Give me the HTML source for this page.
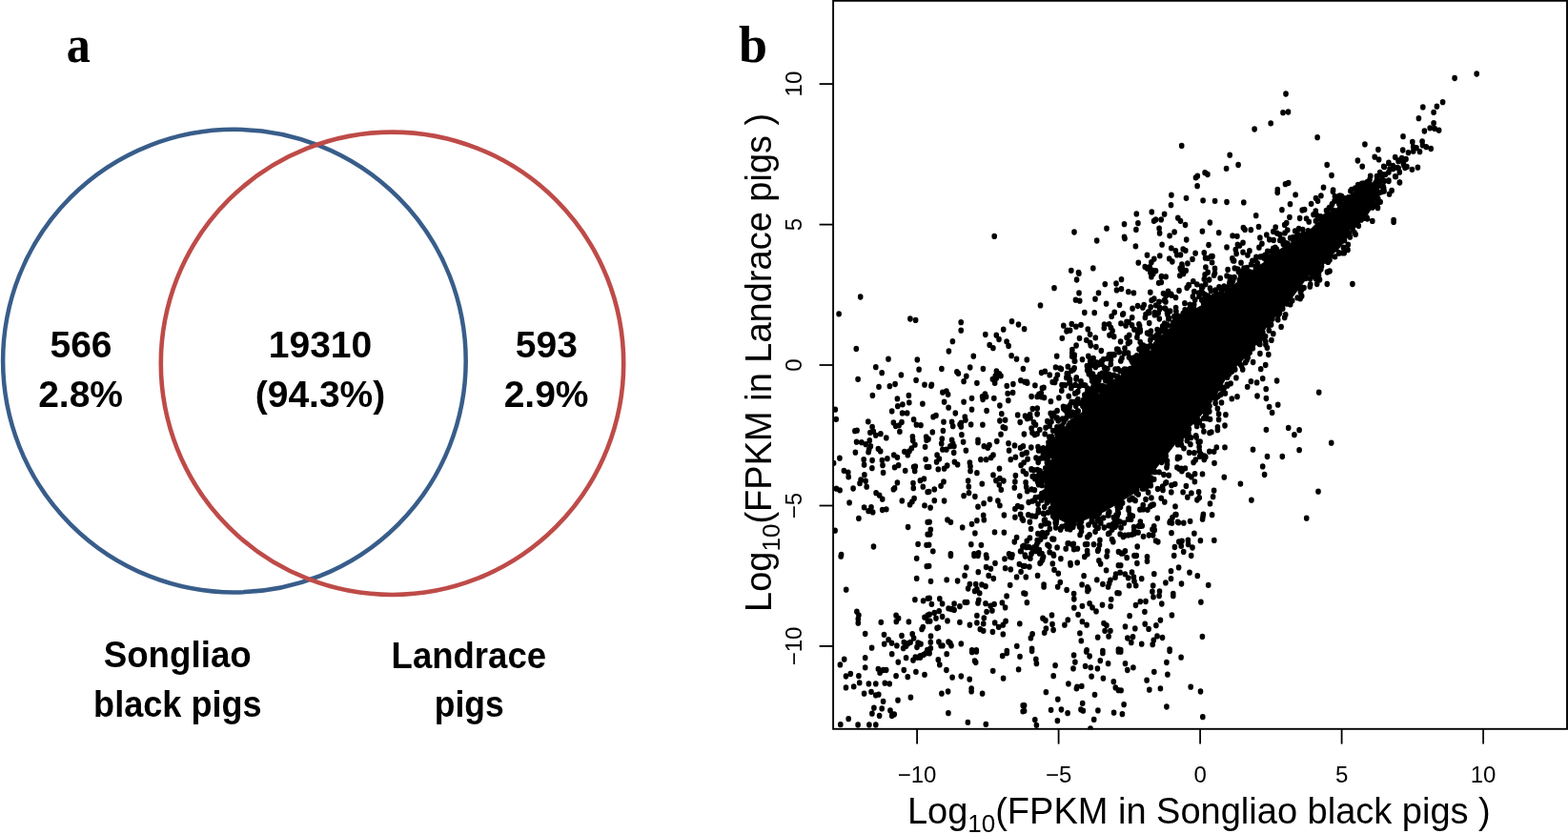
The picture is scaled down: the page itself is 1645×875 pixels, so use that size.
<!DOCTYPE html><html><head><meta charset="utf-8"><title>Figure</title><style>html,body{margin:0;padding:0;background:#fff;overflow:hidden}svg{display:block}</style></head><body><svg width="1645" height="875" viewBox="0 0 1645 875">
<rect width="100%" height="100%" fill="#fff"/>
<text transform="translate(82.3 64.6) scale(0.93 1)" font-family="Liberation Serif, serif" font-weight="bold" font-size="54" text-anchor="middle">a</text>
<circle cx="245.9" cy="378.6" r="242.8" fill="none" stroke="#385D8A" stroke-width="4.5"/>
<circle cx="411.5" cy="381.3" r="242.7" fill="none" stroke="#BE4B48" stroke-width="4.6"/>
<text x="85.0" y="375.2" font-family="Liberation Sans, sans-serif" font-weight="bold" font-size="39" text-anchor="middle">566</text>
<text x="84.6" y="427.2" font-family="Liberation Sans, sans-serif" font-weight="bold" font-size="39" text-anchor="middle">2.8%</text>
<text x="336.0" y="375.2" font-family="Liberation Sans, sans-serif" font-weight="bold" font-size="39" text-anchor="middle">19310</text>
<text x="336.0" y="427.2" font-family="Liberation Sans, sans-serif" font-weight="bold" font-size="39" text-anchor="middle">(94.3%)</text>
<text x="573.3" y="375.2" font-family="Liberation Sans, sans-serif" font-weight="bold" font-size="39" text-anchor="middle">593</text>
<text x="573.1" y="427.2" font-family="Liberation Sans, sans-serif" font-weight="bold" font-size="39" text-anchor="middle">2.9%</text>
<text transform="translate(186.2 700.2) scale(0.942 1)" font-family="Liberation Sans, sans-serif" font-weight="bold" font-size="39" text-anchor="middle">Songliao</text>
<text transform="translate(186.4 752.0) scale(0.926 1)" font-family="Liberation Sans, sans-serif" font-weight="bold" font-size="39" text-anchor="middle">black pigs</text>
<text transform="translate(491.8 700.5) scale(0.937 1)" font-family="Liberation Sans, sans-serif" font-weight="bold" font-size="39" text-anchor="middle">Landrace</text>
<text transform="translate(492.2 752.4) scale(0.911 1)" font-family="Liberation Sans, sans-serif" font-weight="bold" font-size="39" text-anchor="middle">pigs</text>
<text x="790" y="64.6" font-family="Liberation Serif, serif" font-weight="bold" font-size="54" text-anchor="middle">b</text>
<rect x="874.1" y="0.8" width="769.9" height="764.0" fill="none" stroke="#000" stroke-width="1.9"/>
<line x1="962.1" y1="764.8" x2="962.1" y2="780.6" stroke="#000" stroke-width="1.8"/>
<text x="962.1" y="820.5" font-family="Liberation Sans, sans-serif" font-size="24" text-anchor="middle">−10</text>
<line x1="1110.6" y1="764.8" x2="1110.6" y2="780.6" stroke="#000" stroke-width="1.8"/>
<text x="1110.6" y="820.5" font-family="Liberation Sans, sans-serif" font-size="24" text-anchor="middle">−5</text>
<line x1="1259.1" y1="764.8" x2="1259.1" y2="780.6" stroke="#000" stroke-width="1.8"/>
<text x="1259.1" y="820.5" font-family="Liberation Sans, sans-serif" font-size="24" text-anchor="middle">0</text>
<line x1="1407.6" y1="764.8" x2="1407.6" y2="780.6" stroke="#000" stroke-width="1.8"/>
<text x="1407.6" y="820.5" font-family="Liberation Sans, sans-serif" font-size="24" text-anchor="middle">5</text>
<line x1="1556.1" y1="764.8" x2="1556.1" y2="780.6" stroke="#000" stroke-width="1.8"/>
<text x="1556.1" y="820.5" font-family="Liberation Sans, sans-serif" font-size="24" text-anchor="middle">10</text>
<line x1="859.6" y1="677.9" x2="874.1" y2="677.9" stroke="#000" stroke-width="1.8"/>
<text transform="translate(841.3 677.9) rotate(-90)" font-family="Liberation Sans, sans-serif" font-size="24" text-anchor="middle">−10</text>
<line x1="859.6" y1="530.5" x2="874.1" y2="530.5" stroke="#000" stroke-width="1.8"/>
<text transform="translate(841.3 530.5) rotate(-90)" font-family="Liberation Sans, sans-serif" font-size="24" text-anchor="middle">−5</text>
<line x1="859.6" y1="383.0" x2="874.1" y2="383.0" stroke="#000" stroke-width="1.8"/>
<text transform="translate(841.3 383.0) rotate(-90)" font-family="Liberation Sans, sans-serif" font-size="24" text-anchor="middle">0</text>
<line x1="859.6" y1="235.6" x2="874.1" y2="235.6" stroke="#000" stroke-width="1.8"/>
<text transform="translate(841.3 235.6) rotate(-90)" font-family="Liberation Sans, sans-serif" font-size="24" text-anchor="middle">5</text>
<line x1="859.6" y1="88.1" x2="874.1" y2="88.1" stroke="#000" stroke-width="1.8"/>
<text transform="translate(841.3 88.1) rotate(-90)" font-family="Liberation Sans, sans-serif" font-size="24" text-anchor="middle">10</text>
<text x="951.9" y="863.8" font-family="Liberation Sans, sans-serif" font-size="38">Log<tspan font-size="26" dy="9">10</tspan><tspan dy="-9">(FPKM in Songliao black pigs )</tspan></text>
<text transform="translate(809.4 641.9) rotate(-90)" font-family="Liberation Sans, sans-serif" font-size="38">Log<tspan font-size="26" dy="9">10</tspan><tspan dy="-9">(FPKM in Landrace pigs )</tspan></text>
<clipPath id="pc"><rect x="874.1" y="0" width="770" height="765.5"/></clipPath>
<g clip-path="url(#pc)">
<path d="M1109.4 544.2 L1102.1 531.4 L1099.3 513.1 L1100.2 494.9 L1103.9 476.6 L1111.2 458.3 L1120.3 442.0 L1134.3 433.0 L1145.7 417.1 L1164.0 406.0 L1180.0 394.3 L1196.0 380.6 L1209.7 364.6 L1218.9 350.9 L1240.0 333.0 L1258.3 321.3 L1276.6 312.2 L1291.2 301.2 L1302.2 292.1 L1316.8 281.1 L1327.8 273.8 L1335.1 266.5 L1346.1 259.1 L1357.0 253.7 L1368.0 247.0 L1380.0 235.0 L1396.9 223.4 L1408.3 212.0 L1417.4 202.9 L1425.4 197.1 L1433.4 193.7 L1442.6 190.3 L1447.0 188.0 L1450.0 193.0 L1446.0 200.0 L1446.6 205.6 L1442.0 214.7 L1435.1 225.0 L1423.7 233.0 L1415.7 242.1 L1412.3 251.3 L1404.0 262.3 L1390.3 273.3 L1375.7 286.1 L1364.7 300.7 L1353.7 315.3 L1342.7 328.1 L1331.8 339.1 L1322.6 353.7 L1313.5 368.4 L1298.9 383.0 L1286.1 397.6 L1279.0 410.0 L1268.9 425.7 L1254.0 443.0 L1241.4 455.4 L1225.4 476.0 L1207.1 498.9 L1191.1 517.1 L1172.9 528.6 L1158.7 537.0 L1145.9 542.4 L1133.1 547.9 L1120.3 549.7Z" fill="#000"/>
<path d="M1043.2 247.45v0.7M1106.0 301.75v0.7M1091.5 319.95v0.7M902.7 311.15v0.7M880.1 329.05v0.7M954.9 334.15v0.7M960.6 335.45v0.7M1008.2 337.85v0.7M1008.2 346.25v0.7M999.4 357.75v0.7M995.4 368.15v0.7M1061.5 336.85v0.7M1068.5 340.15v0.7M1074.6 344.85v0.7M1052.7 345.25v0.7M1033.8 350.65v0.7M1045.3 351.35v0.7M1048.0 355.65v0.7M1056.1 358.05v0.7M1058.1 362.45v0.7M1038.2 361.45v0.7M1041.9 364.75v0.7M898.3 365.45v0.7M932.0 376.25v0.7M962.3 376.95v0.7M1021.3 373.25v0.7M1061.1 372.85v0.7M1066.5 376.25v0.7M1077.3 376.95v0.7M1108.7 373.25v0.7M1239.7 152.45v0.7M1264.1 180.75v0.7M1266.9 182.65v0.7M1254.5 186.05v0.7M1256.3 184.25v0.7M1256.1 194.75v0.7M1228.9 204.35v0.7M1244.5 207.55v0.7M1262.1 210.05v0.7M1274.6 210.55v0.7M1287.0 211.65v0.7M1228.5 214.85v0.7M1192.3 223.95v0.7M1208.3 221.95v0.7M1221.6 224.25v0.7M1210.6 231.55v0.7M1212.5 230.15v0.7M1218.2 229.95v0.7M1235.8 228.35v0.7M1238.5 231.55v0.7M1243.5 235.65v0.7M1269.4 233.15v0.7M1179.5 234.75v0.7M1193.9 233.85v0.7M1191.9 240.45v0.7M1216.1 239.35v0.7M1216.6 244.35v0.7M1232.1 242.95v0.7M1227.1 247.05v0.7M1261.4 242.25v0.7M1278.7 243.85v0.7M1293.1 247.05v0.7M1297.9 247.55v0.7M1161.0 239.35v0.7M1127.0 243.15v0.7M1150.7 252.15v0.7M1179.5 248.25v0.7M1180.0 249.85v0.7M1244.7 251.15v0.7M1191.4 258.05v0.7M1219.1 256.25v0.7M1268.0 256.65v0.7M1287.0 258.95v0.7M1298.4 256.25v0.7M1349.0 98.15v0.7M1346.0 117.85v0.7M1351.5 117.15v0.7M1333.2 129.05v0.7M1316.1 135.15v0.7M1382.1 143.85v0.7M1290.2 162.35v0.7M1299.1 172.65v0.7M1286.6 176.55v0.7M1431.9 150.95v0.7M1445.9 156.65v0.7M1472.0 142.75v0.7M1471.7 157.15v0.7M1424.4 168.15v0.7M1442.2 164.25v0.7M1446.6 166.95v0.7M1429.2 174.25v0.7M1392.2 172.65v0.7M1397.0 183.65v0.7M1437.7 184.35v0.7M1348.5 192.75v0.7M1351.7 191.65v0.7M1388.5 196.25v0.7M1468.5 191.15v0.7M1452.3 174.75v0.7M1456.9 171.05v0.7M1463.7 164.65v0.7M1467.1 168.75v0.7M1470.6 167.65v0.7M1472.9 173.35v0.7M1461.4 176.75v0.7M1466.0 175.65v0.7M1456.9 180.25v0.7M1450.0 182.55v0.7M1447.7 189.35v0.7M1443.1 191.65v0.7M1438.6 195.05v0.7M1434.0 196.25v0.7M1429.4 197.35v0.7M1423.7 196.65v0.7M1418.0 198.55v0.7M1451.1 195.05v0.7M1456.9 188.95v0.7M1463.7 184.75v0.7M1468.3 180.25v0.7M1474.0 175.65v0.7M1340.3 198.55v0.7M1398.6 198.95v0.7M1526.1 81.65v0.7M1549.2 77.15v0.7M1513.6 106.85v0.7M1507.4 111.35v0.7M1492.8 111.95v0.7M1504.1 117.55v0.7M1488.4 123.75v0.7M1504.1 128.85v0.7M1500.2 134.05v0.7M1505.1 134.45v0.7M1509.6 136.25v0.7M1494.4 137.15v0.7M1481.8 148.65v0.7M1492.1 148.05v0.7M1482.7 153.85v0.7M1486.0 154.85v0.7M1492.5 151.95v0.7M1496.3 153.85v0.7M1501.2 155.65v0.7M1489.5 158.75v0.7M1482.7 158.35v0.7M1477.5 159.75v0.7M1475.0 166.65v0.7M1475.9 174.65v0.7M1481.4 177.55v0.7M1487.4 175.25v0.7M1340.2 201.65v0.7M1359.1 204.05v0.7M1304.8 211.95v0.7M1353.5 213.75v0.7M1344.9 219.75v0.7M1317.7 225.85v0.7M1352.9 227.45v0.7M1366.2 220.15v0.7M1368.6 219.55v0.7M1375.6 213.55v0.7M1380.5 207.65v0.7M1382.5 210.55v0.7M1385.9 205.05v0.7M1363.6 228.65v0.7M1370.6 229.05v0.7M1378.0 224.75v0.7M1381.5 225.65v0.7M1385.5 226.85v0.7M1391.5 220.55v0.7M1394.5 217.55v0.7M1397.4 213.95v0.7M1400.4 205.65v0.7M1398.4 200.65v0.7M1347.7 235.45v0.7M1349.7 233.45v0.7M1320.5 237.45v0.7M1304.4 238.45v0.7M1306.0 240.45v0.7M1312.3 240.85v0.7M1338.2 238.05v0.7M1335.8 242.45v0.7M1339.8 244.35v0.7M1342.8 245.75v0.7M1350.7 241.05v0.7M1358.7 242.05v0.7M1362.6 239.45v0.7M1328.8 245.95v0.7M1331.8 250.95v0.7M1321.9 248.95v0.7M1304.0 254.35v0.7M1300.5 257.35v0.7M1323.9 255.35v0.7M1320.9 259.35v0.7M1342.8 251.75v0.7M1345.7 253.35v0.7M1310.9 262.85v0.7M1304.0 264.25v0.7M1308.9 267.25v0.7M1329.8 263.25v0.7M1337.8 259.35v0.7M1335.8 260.25v0.7M1353.7 249.35v0.7M1302.0 275.25v0.7M1305.0 281.15v0.7M1313.9 273.25v0.7M1317.9 269.25v0.7M1446.2 201.65v0.7M1452.1 200.15v0.7M1448.1 211.55v0.7M1462.1 230.45v0.7M1462.1 232.45v0.7M1439.8 231.45v0.7M1431.8 228.45v0.7M1424.3 233.45v0.7M1425.3 236.45v0.7M1415.3 244.35v0.7M1416.3 248.35v0.7M1414.3 256.35v0.7M1408.4 252.35v0.7M1409.4 259.35v0.7M1404.8 265.25v0.7M1400.4 259.35v0.7M1394.5 269.25v0.7M1395.0 272.25v0.7M1386.5 279.15v0.7M1383.5 276.25v0.7M1392.5 285.15v0.7M1395.0 284.15v0.7M1375.6 285.15v0.7M1377.6 289.15v0.7M1374.6 292.15v0.7M1383.5 289.15v0.7M1384.5 293.15v0.7M1380.5 292.15v0.7M1392.3 297.65v0.7M1418.9 297.65v0.7M1368.0 301.65v0.7M1361.2 311.95v0.7M1353.7 318.95v0.7M1355.7 314.95v0.7M1348.7 329.85v0.7M1347.7 332.85v0.7M1344.1 342.45v0.7M1335.8 349.75v0.7M1327.8 358.15v0.7M1329.4 364.65v0.7M1324.9 348.75v0.7M1317.9 358.75v0.7M1321.9 360.75v0.7M1321.9 370.65v0.7M1330.8 371.65v0.7M1303.7 387.25v0.7M1302.6 383.75v0.7M1295.7 387.25v0.7M1292.3 389.55v0.7M1288.9 386.05v0.7M1284.3 384.95v0.7M1278.6 383.75v0.7M1276.3 387.25v0.7M1274.0 391.75v0.7M1296.9 395.95v0.7M1291.1 402.05v0.7M1287.7 404.35v0.7M1284.3 406.65v0.7M1280.9 405.55v0.7M1277.4 403.25v0.7M1275.1 407.75v0.7M1285.4 412.35v0.7M1277.4 415.75v0.7M1275.1 422.65v0.7M1281.5 421.95v0.7M1292.3 418.05v0.7M1298.0 415.75v0.7M1277.4 428.35v0.7M1278.6 434.05v0.7M1278.6 439.75v0.7M1285.9 434.75v0.7M1277.4 447.75v0.7M1277.4 450.75v0.7M1285.0 446.15v0.7M1276.3 469.05v0.7M1285.0 469.05v0.7M1274.0 485.55v0.7M1284.3 500.35v0.7M1301.4 507.25v0.7M1312.9 524.35v0.7M1308.7 405.55v0.7M1312.4 399.75v0.7M1318.6 400.95v0.7M1324.7 396.85v0.7M1322.7 386.75v0.7M1327.7 382.65v0.7M1339.6 399.15v0.7M1328.2 407.75v0.7M1319.0 415.15v0.7M1328.4 417.65v0.7M1331.6 426.55v0.7M1334.6 432.45v0.7M1340.7 424.25v0.7M1383.7 411.25v0.7M1328.4 450.55v0.7M1351.7 448.45v0.7M1357.9 455.75v0.7M1363.1 450.75v0.7M1396.7 464.25v0.7M1314.5 471.35v0.7M1329.5 478.65v0.7M1345.3 478.65v0.7M1363.1 471.75v0.7M1324.7 488.95v0.7M1326.6 497.65v0.7M1383.0 515.25v0.7M1370.7 543.35v0.7M1101.3 554.55v0.7M1098.6 558.65v0.7M1094.5 561.35v0.7M1091.7 565.45v0.7M1089.0 568.25v0.7M1087.6 570.95v0.7M1084.9 573.75v0.7M1083.5 576.45v0.7M1086.2 577.85v0.7M1090.4 576.45v0.7M1093.1 580.55v0.7M1093.8 586.05v0.7M1091.7 590.15v0.7M1076.6 573.75v0.7M1073.9 572.35v0.7M1071.2 577.85v0.7M1075.3 581.95v0.7M1080.8 585.35v0.7M882.2 583.25v0.7M961.7 585.55v0.7M972.3 593.75v0.7M961.7 606.45v0.7M887.7 618.35v0.7M959.9 628.75v0.7M968.6 630.05v0.7M973.4 627.55v0.7M898.9 641.25v0.7M900.9 644.95v0.7M900.3 648.95v0.7M900.3 653.25v0.7M924.3 652.55v0.7M940.1 645.25v0.7M942.6 648.35v0.7M940.3 651.75v0.7M953.4 652.05v0.7M970.0 647.25v0.7M973.4 644.95v0.7M973.4 651.25v0.7M968.3 657.55v0.7M967.1 659.75v0.7M907.7 664.65v0.7M927.5 665.55v0.7M932.1 670.85v0.7M935.5 674.35v0.7M927.7 675.25v0.7M940.9 676.95v0.7M946.0 666.65v0.7M957.2 664.75v0.7M958.6 669.15v0.7M948.3 673.55v0.7M952.9 674.65v0.7M955.1 673.55v0.7M950.6 677.55v0.7M947.7 679.75v0.7M963.1 674.05v0.7M966.0 675.25v0.7M962.0 678.65v0.7M914.6 679.25v0.7M972.9 681.55v0.7M997.4 582.65v0.7M1022.0 582.65v0.7M1026.0 582.65v0.7M1035.1 584.75v0.7M1054.0 586.05v0.7M1059.7 583.75v0.7M1061.4 584.35v0.7M1044.0 590.45v0.7M1034.6 594.65v0.7M1039.4 596.35v0.7M1054.6 595.75v0.7M1060.3 596.95v0.7M1069.4 591.55v0.7M1073.4 593.55v0.7M1071.1 599.55v0.7M1066.6 604.95v0.7M974.6 593.55v0.7M1013.8 594.95v0.7M1026.3 599.75v0.7M1012.1 603.45v0.7M1037.2 603.45v0.7M1042.3 606.65v0.7M976.5 609.55v0.7M993.2 608.05v0.7M1004.6 609.15v0.7M1017.4 612.55v0.7M1015.7 617.15v0.7M1023.7 612.55v0.7M1022.6 619.75v0.7M1024.9 617.85v0.7M1027.7 622.05v0.7M1030.0 612.95v0.7M1034.0 614.85v0.7M1059.7 613.55v0.7M1056.1 624.95v0.7M1074.0 622.05v0.7M975.1 627.25v0.7M977.4 633.55v0.7M985.8 627.75v0.7M988.6 632.95v0.7M1001.1 632.95v0.7M995.1 638.05v0.7M998.0 638.65v0.7M1001.1 639.45v0.7M1006.9 635.75v0.7M1012.3 631.55v0.7M1014.6 631.55v0.7M1026.8 629.25v0.7M1026.0 632.35v0.7M1034.0 632.75v0.7M1039.1 635.25v0.7M1043.1 633.55v0.7M1040.9 640.35v0.7M1035.1 641.55v0.7M1051.4 632.05v0.7M1054.6 636.95v0.7M985.2 640.75v0.7M980.3 642.65v0.7M975.1 644.35v0.7M982.0 648.35v0.7M975.7 651.25v0.7M988.6 646.65v0.7M994.0 650.95v0.7M1006.9 652.55v0.7M1017.4 655.25v0.7M1024.9 645.55v0.7M1024.9 652.95v0.7M1032.3 648.05v0.7M1031.7 654.05v0.7M1028.3 659.75v0.7M1031.7 661.55v0.7M1043.7 652.95v0.7M1047.7 657.55v0.7M1052.3 655.25v0.7M1055.1 651.25v0.7M1041.4 662.45v0.7M1052.3 664.95v0.7M1069.8 654.05v0.7M984.3 658.05v0.7M983.1 658.65v0.7M976.5 666.95v0.7M976.3 673.55v0.7M976.3 679.75v0.7M984.9 672.95v0.7M987.1 676.95v0.7M988.9 676.95v0.7M995.1 672.95v0.7M998.0 676.95v0.7M996.9 674.65v0.7M1008.3 674.95v0.7M1019.7 681.85v0.7M1024.3 681.85v0.7M1066.8 677.55v0.7M1056.3 682.65v0.7M935.7 685.85v0.7M885.7 691.25v0.7M881.4 696.95v0.7M907.7 689.75v0.7M907.7 700.05v0.7M950.6 689.75v0.7M942.3 694.35v0.7M958.0 692.35v0.7M960.3 688.95v0.7M962.6 689.55v0.7M965.4 687.75v0.7M965.4 689.55v0.7M968.9 686.65v0.7M971.1 684.95v0.7M973.4 684.35v0.7M948.3 702.65v0.7M960.9 704.55v0.7M970.0 707.55v0.7M952.3 709.85v0.7M940.1 708.75v0.7M921.4 701.55v0.7M923.7 703.25v0.7M923.1 705.55v0.7M926.6 702.65v0.7M929.7 702.65v0.7M892.3 706.65v0.7M887.5 709.15v0.7M900.9 708.75v0.7M901.7 716.05v0.7M887.5 720.95v0.7M895.7 720.05v0.7M911.4 716.95v0.7M918.8 716.95v0.7M928.3 716.35v0.7M933.2 716.95v0.7M906.6 727.25v0.7M914.0 725.55v0.7M918.8 728.95v0.7M921.8 728.35v0.7M926.6 735.45v0.7M942.0 734.35v0.7M955.4 731.25v0.7M916.9 742.35v0.7M925.2 742.95v0.7M914.9 748.35v0.7M922.6 750.45v0.7M934.0 744.95v0.7M935.7 750.65v0.7M938.2 749.15v0.7M890.2 753.75v0.7M881.8 759.75v0.7M900.1 760.15v0.7M911.9 760.15v0.7M918.8 760.15v0.7M975.1 684.95v0.7M993.2 685.85v0.7M1019.7 683.75v0.7M1024.3 683.25v0.7M1051.7 687.75v0.7M1056.3 684.75v0.7M1070.0 688.55v0.7M984.3 691.75v0.7M985.8 696.95v0.7M1022.6 692.95v0.7M1023.7 694.65v0.7M992.9 702.65v0.7M1041.7 703.55v0.7M1068.6 702.05v0.7M999.1 710.35v0.7M1008.3 709.15v0.7M1017.2 712.35v0.7M1052.6 711.25v0.7M1019.1 722.05v0.7M1019.1 724.95v0.7M987.9 727.25v0.7M994.6 725.15v0.7M1030.6 727.25v0.7M1073.2 739.75v0.7M1073.2 746.05v0.7M994.9 747.75v0.7M1015.4 757.55v0.7M1034.3 759.45v0.7M1075.7 583.25v0.7M1080.9 585.55v0.7M1075.1 593.55v0.7M1079.9 594.35v0.7M1076.3 604.95v0.7M1091.1 590.65v0.7M1093.4 587.25v0.7M1094.6 583.75v0.7M1088.6 603.45v0.7M1104.3 590.95v0.7M1112.9 585.85v0.7M1106.0 597.55v0.7M1110.3 601.25v0.7M1095.1 612.95v0.7M1095.1 615.25v0.7M1112.3 610.45v0.7M1109.7 615.25v0.7M1119.1 618.65v0.7M1122.9 590.45v0.7M1123.1 592.35v0.7M1130.2 590.05v0.7M1137.8 583.75v0.7M1152.9 587.75v0.7M1154.6 591.25v0.7M1161.1 583.25v0.7M1160.6 598.05v0.7M1173.4 592.75v0.7M1137.1 603.75v0.7M1150.8 608.05v0.7M1135.1 612.95v0.7M1140.9 615.75v0.7M1142.0 618.05v0.7M1140.9 619.75v0.7M1156.9 612.55v0.7M1164.9 608.35v0.7M1163.7 611.75v0.7M1162.6 615.25v0.7M1170.6 602.05v0.7M1170.0 605.55v0.7M1172.1 621.85v0.7M1075.7 622.45v0.7M1077.4 631.75v0.7M1126.6 622.65v0.7M1126.8 628.15v0.7M1126.8 637.25v0.7M1135.4 635.55v0.7M1143.1 632.75v0.7M1146.0 636.95v0.7M1150.0 640.95v0.7M1156.5 634.35v0.7M1165.7 628.55v0.7M1165.2 635.75v0.7M1103.5 644.95v0.7M1094.0 648.35v0.7M1096.9 650.65v0.7M1104.0 654.45v0.7M1097.4 658.95v0.7M1095.7 663.55v0.7M1105.1 660.65v0.7M1120.3 650.05v0.7M1116.9 655.25v0.7M1131.1 644.55v0.7M1135.4 651.75v0.7M1140.1 655.25v0.7M1132.9 664.05v0.7M1134.3 672.05v0.7M1158.0 653.55v0.7M1160.9 655.75v0.7M1159.1 661.55v0.7M1164.9 661.55v0.7M1163.1 667.25v0.7M1151.7 668.35v0.7M1083.1 664.75v0.7M1081.4 668.95v0.7M1082.6 680.35v0.7M1140.1 681.85v0.7M1156.9 682.65v0.7M1173.4 680.95v0.7M1182.2 584.75v0.7M1190.0 582.65v0.7M1192.3 582.65v0.7M1203.5 583.75v0.7M1203.5 588.55v0.7M1231.7 582.65v0.7M1249.7 582.65v0.7M1175.7 592.75v0.7M1192.9 590.65v0.7M1175.1 600.35v0.7M1180.3 602.05v0.7M1183.7 606.05v0.7M1187.5 600.05v0.7M1189.4 604.95v0.7M1190.0 609.55v0.7M1191.7 614.05v0.7M1184.6 614.05v0.7M1197.7 606.85v0.7M1210.8 601.85v0.7M1228.5 598.85v0.7M1236.6 594.95v0.7M1248.0 600.35v0.7M1256.3 603.75v0.7M1228.5 606.85v0.7M1222.9 610.95v0.7M1239.5 612.15v0.7M1267.7 613.55v0.7M1209.7 614.05v0.7M1208.9 620.35v0.7M1210.0 626.05v0.7M1216.5 620.15v0.7M1216.1 624.75v0.7M1230.8 622.65v0.7M1230.8 624.75v0.7M1174.0 622.05v0.7M1196.3 630.85v0.7M1202.0 630.65v0.7M1191.5 634.65v0.7M1218.8 633.15v0.7M1259.9 631.25v0.7M1200.9 641.55v0.7M1185.1 645.85v0.7M1229.4 644.95v0.7M1217.4 650.35v0.7M1201.2 654.35v0.7M1205.1 659.45v0.7M1212.9 655.75v0.7M1180.5 656.95v0.7M1190.8 658.95v0.7M1182.9 669.15v0.7M1188.5 667.75v0.7M1186.8 673.85v0.7M1197.7 675.25v0.7M1214.0 666.95v0.7M1219.5 668.65v0.7M1210.3 671.25v0.7M1209.2 675.75v0.7M1261.4 667.45v0.7M1175.7 681.55v0.7M1227.1 680.95v0.7M1082.6 682.65v0.7M1086.8 691.25v0.7M1087.4 695.75v0.7M1107.1 697.75v0.7M1105.2 708.75v0.7M1126.6 686.95v0.7M1127.9 694.35v0.7M1126.0 700.95v0.7M1139.7 683.25v0.7M1143.1 688.15v0.7M1156.9 684.75v0.7M1173.4 683.25v0.7M1154.3 692.75v0.7M1162.6 695.75v0.7M1138.6 698.45v0.7M1144.3 700.05v0.7M1151.4 700.95v0.7M1145.1 709.25v0.7M1157.4 711.25v0.7M1168.3 714.85v0.7M1170.3 720.95v0.7M1173.4 723.75v0.7M1120.9 716.95v0.7M1130.0 720.35v0.7M1129.4 722.05v0.7M1134.8 719.45v0.7M1097.4 725.75v0.7M1148.5 728.55v0.7M1109.8 733.25v0.7M1135.7 737.55v0.7M1074.6 739.75v0.7M1074.6 745.55v0.7M1102.6 744.55v0.7M1113.4 744.15v0.7M1120.1 747.75v0.7M1134.0 744.15v0.7M1136.3 745.25v0.7M1151.9 744.95v0.7M1168.6 747.25v0.7M1085.8 754.85v0.7M1087.4 760.55v0.7M1109.4 755.75v0.7M1147.7 754.45v0.7M1144.0 764.05v0.7M1175.7 683.55v0.7M1227.1 682.65v0.7M1239.1 689.25v0.7M1180.5 695.75v0.7M1182.8 702.65v0.7M1188.9 700.05v0.7M1223.9 694.65v0.7M1224.9 707.25v0.7M1210.8 704.55v0.7M1203.1 713.25v0.7M1205.8 723.25v0.7M1217.4 722.05v0.7M1249.2 720.35v0.7M1259.5 725.15v0.7M1176.1 724.05v0.7M1179.1 738.85v0.7M1177.4 748.75v0.7M1223.9 741.15v0.7M1261.8 751.75v0.7M918.8 384.75v0.7M925.2 390.85v0.7M900.1 397.55v0.7M964.1 387.25v0.7M945.4 392.95v0.7M961.1 398.45v0.7M970.0 403.25v0.7M922.0 405.55v0.7M933.4 404.75v0.7M939.1 402.65v0.7M915.4 414.45v0.7M953.4 414.45v0.7M941.4 418.05v0.7M953.8 422.05v0.7M941.8 425.85v0.7M946.9 424.05v0.7M967.9 423.25v0.7M935.7 430.95v0.7M946.6 432.95v0.7M951.7 432.95v0.7M876.3 429.25v0.7M877.2 439.55v0.7M910.8 442.05v0.7M958.6 439.75v0.7M961.4 445.25v0.7M966.0 445.75v0.7M937.4 442.95v0.7M939.7 446.65v0.7M946.0 442.65v0.7M943.1 446.05v0.7M943.9 452.55v0.7M915.1 447.55v0.7M912.9 453.55v0.7M916.3 452.35v0.7M918.8 456.35v0.7M923.9 454.85v0.7M896.9 451.75v0.7M899.1 451.25v0.7M929.8 458.95v0.7M898.6 463.25v0.7M903.9 463.75v0.7M908.3 465.85v0.7M912.3 461.75v0.7M913.4 467.75v0.7M911.7 471.25v0.7M911.1 474.05v0.7M897.4 474.35v0.7M921.4 470.65v0.7M923.7 472.95v0.7M957.4 457.85v0.7M957.7 461.75v0.7M959.9 466.35v0.7M956.3 470.05v0.7M954.0 472.95v0.7M948.9 473.55v0.7M952.3 476.95v0.7M971.7 458.05v0.7M972.1 461.55v0.7M970.6 468.55v0.7M937.8 476.95v0.7M941.4 479.55v0.7M880.9 480.35v0.7M906.2 481.85v0.7M915.1 482.65v0.7M925.4 482.65v0.7M930.9 480.75v0.7M971.1 481.55v0.7M987.9 386.65v0.7M1003.9 389.75v0.7M1005.4 391.55v0.7M1017.7 385.15v0.7M1031.4 386.65v0.7M1013.8 394.35v0.7M1011.1 399.75v0.7M1024.9 401.55v0.7M1045.4 388.95v0.7M1048.3 391.75v0.7M1050.0 394.05v0.7M1044.3 394.05v0.7M1041.4 397.55v0.7M1043.7 401.55v0.7M1045.4 396.35v0.7M1073.4 386.65v0.7M1070.9 398.85v0.7M1056.3 404.55v0.7M1062.9 402.65v0.7M977.4 403.25v0.7M976.9 404.55v0.7M988.9 411.25v0.7M992.9 410.05v0.7M994.6 413.55v0.7M1057.2 412.55v0.7M1062.6 411.45v0.7M1057.8 419.75v0.7M990.6 421.25v0.7M1011.1 421.25v0.7M1019.5 417.55v0.7M1030.6 415.75v0.7M1033.4 412.95v0.7M1031.1 418.65v0.7M1034.6 415.75v0.7M1042.8 417.55v0.7M1048.9 425.15v0.7M995.1 427.25v0.7M1019.5 429.25v0.7M1035.1 430.45v0.7M1002.3 433.15v0.7M979.1 436.95v0.7M982.0 435.45v0.7M1050.8 433.85v0.7M1067.7 434.95v0.7M990.0 442.35v0.7M998.6 442.35v0.7M999.7 446.85v0.7M1008.3 443.25v0.7M1012.3 436.95v0.7M1012.9 440.35v0.7M1008.3 447.25v0.7M1007.1 444.95v0.7M1018.6 444.95v0.7M1030.9 445.25v0.7M1048.9 441.15v0.7M1054.6 440.35v0.7M1052.3 447.75v0.7M1054.6 448.75v0.7M1070.2 442.65v0.7M978.3 452.95v0.7M989.4 451.45v0.7M1008.9 455.75v0.7M1050.0 455.25v0.7M974.0 460.35v0.7M988.3 460.15v0.7M987.7 464.95v0.7M988.9 471.25v0.7M992.9 471.25v0.7M996.9 467.75v0.7M998.6 461.25v0.7M999.7 464.95v0.7M1000.9 467.75v0.7M1010.6 463.25v0.7M1026.0 461.25v0.7M1026.0 463.75v0.7M1045.8 462.65v0.7M1032.3 467.75v0.7M1036.3 469.55v0.7M1038.0 466.65v0.7M1013.4 472.35v0.7M1000.7 474.65v0.7M1058.0 464.75v0.7M1064.5 466.95v0.7M1058.6 472.35v0.7M1070.6 469.55v0.7M1073.4 467.75v0.7M1072.3 476.35v0.7M983.1 476.95v0.7M985.4 480.95v0.7M1042.0 476.95v0.7M1039.7 479.75v0.7M1028.9 481.85v0.7M1034.6 481.85v0.7M1065.4 479.25v0.7M1060.3 481.85v0.7M874.6 485.55v0.7M906.6 487.25v0.7M914.9 490.85v0.7M926.0 487.75v0.7M926.6 495.45v0.7M938.6 490.05v0.7M942.6 487.75v0.7M949.7 493.55v0.7M958.6 489.55v0.7M960.3 488.95v0.7M959.7 493.85v0.7M972.3 489.55v0.7M885.4 493.55v0.7M889.8 495.25v0.7M890.2 500.05v0.7M906.9 497.75v0.7M903.1 502.95v0.7M902.0 506.85v0.7M908.1 504.35v0.7M909.2 510.35v0.7M895.1 512.15v0.7M877.4 512.35v0.7M881.1 514.05v0.7M941.4 506.05v0.7M938.6 511.75v0.7M937.4 512.95v0.7M958.0 506.65v0.7M958.3 511.75v0.7M965.4 503.75v0.7M969.4 502.05v0.7M968.3 510.35v0.7M973.2 515.75v0.7M919.1 516.75v0.7M922.6 519.25v0.7M925.7 523.25v0.7M946.3 524.95v0.7M959.1 522.65v0.7M956.9 526.05v0.7M954.6 528.95v0.7M891.1 526.95v0.7M906.6 532.05v0.7M914.0 531.75v0.7M911.1 535.75v0.7M915.7 536.95v0.7M925.7 534.65v0.7M929.8 534.05v0.7M970.0 530.05v0.7M900.9 543.45v0.7M973.2 547.55v0.7M952.6 552.65v0.7M876.1 556.35v0.7M973.2 560.35v0.7M963.1 570.45v0.7M972.1 571.55v0.7M916.5 573.15v0.7M882.6 581.55v0.7M982.6 484.35v0.7M1001.4 484.35v0.7M1004.6 486.95v0.7M1017.4 484.95v0.7M1018.0 488.95v0.7M1018.0 493.85v0.7M974.6 489.55v0.7M984.3 492.05v0.7M990.6 491.25v0.7M993.7 488.15v0.7M1024.9 495.75v0.7M1048.5 491.25v0.7M1071.1 487.75v0.7M1073.4 494.05v0.7M1042.0 498.05v0.7M1044.9 503.75v0.7M1048.9 501.55v0.7M1052.9 504.15v0.7M1048.3 508.35v0.7M1050.3 513.55v0.7M1065.4 498.65v0.7M1064.9 504.95v0.7M1064.3 511.25v0.7M990.0 504.95v0.7M987.1 509.55v0.7M980.3 512.95v0.7M974.6 515.55v0.7M1015.7 504.15v0.7M1016.3 510.35v0.7M1016.5 516.75v0.7M1011.1 519.75v0.7M1022.9 520.65v0.7M1030.3 507.25v0.7M1069.8 520.15v0.7M980.3 524.75v0.7M990.6 525.15v0.7M976.1 532.35v0.7M1038.6 523.25v0.7M1032.1 527.75v0.7M1026.0 531.25v0.7M1046.9 525.15v0.7M1048.9 530.05v0.7M1064.9 533.55v0.7M1067.7 530.65v0.7M1071.7 531.75v0.7M1053.4 540.15v0.7M1064.9 542.35v0.7M1070.6 539.25v0.7M1072.3 543.75v0.7M1073.4 545.55v0.7M975.1 547.25v0.7M994.0 544.95v0.7M997.4 547.55v0.7M1031.7 540.35v0.7M1032.3 544.95v0.7M1024.9 545.75v0.7M1019.5 549.55v0.7M1009.7 552.95v0.7M976.3 555.25v0.7M975.7 560.15v0.7M1022.9 558.95v0.7M1043.5 558.05v0.7M1053.4 558.35v0.7M1066.6 563.55v0.7M1064.3 568.15v0.7M974.6 571.25v0.7M1018.8 570.85v0.7M1029.4 571.55v0.7M1072.9 572.95v0.7M1070.6 578.05v0.7M978.8 578.05v0.7M997.4 580.75v0.7M1022.0 580.75v0.7M1026.6 579.75v0.7M1034.6 582.05v0.7M1058.6 580.75v0.7M1062.0 581.85v0.7M1451.7 174.25v0.7M1456.9 170.25v0.7M1458.0 177.05v0.7M1461.4 173.65v0.7M1463.7 164.55v0.7M1467.1 167.95v0.7M1470.6 165.65v0.7M1474.0 166.75v0.7M1472.3 171.35v0.7M1467.1 175.95v0.7M1464.3 185.05v0.7M1456.9 189.65v0.7M1453.4 182.75v0.7M1468.3 191.05v0.7M1451.7 197.05v0.7M1443.1 191.95v0.7M1444.3 199.95v0.7M1448.9 182.75v0.7M1452.3 189.65v0.7M1451.1 196.55v0.7M1447.7 194.25v0.7M1416.9 199.95v0.7M1422.6 197.65v0.7M1430.6 191.95v0.7M1436.3 195.35v0.7M1439.7 201.05v0.7M1432.9 201.05v0.7M1427.1 203.35v0.7M1421.4 205.65v0.7M1414.6 206.75v0.7M1447.7 180.55v0.7M1450.0 185.05v0.7M1444.3 189.65v0.7M1104.5 468.85v0.7M1141.7 415.75v0.7M1231.9 331.65v0.7M1115.6 403.75v0.7M1237.8 288.75v0.7M1151.2 404.05v0.7M1114.1 552.35v0.7M1194.7 374.85v0.7M1183.8 305.75v0.7M1214.6 512.65v0.7M1107.5 385.05v0.7M1102.4 420.85v0.7M1184.1 337.55v0.7M1185.3 358.35v0.7M1193.6 320.65v0.7M1122.6 346.25v0.7M1283.8 302.65v0.7M1193.6 349.45v0.7M1134.7 402.65v0.7M1157.7 376.65v0.7M1237.6 479.55v0.7M1189.4 307.05v0.7M1216.8 268.05v0.7M1096.3 389.35v0.7M1216.0 316.35v0.7M1206.9 530.85v0.7M1076.5 496.85v0.7M1215.8 348.85v0.7M1242.9 317.85v0.7M1089.2 537.15v0.7M1095.3 538.85v0.7M1206.0 350.35v0.7M1209.0 555.05v0.7M1247.6 474.45v0.7M1215.2 328.05v0.7M1110.8 454.85v0.7M1177.3 388.75v0.7M1264.7 297.85v0.7M1241.6 286.85v0.7M1096.3 562.45v0.7M1187.7 332.75v0.7M1175.6 396.95v0.7M1210.9 353.45v0.7M1162.5 393.15v0.7M1086.5 445.35v0.7M1223.1 310.25v0.7M1082.1 449.15v0.7M1102.2 433.35v0.7M1228.8 260.05v0.7M1142.0 550.35v0.7M1119.7 346.25v0.7M1085.7 524.15v0.7M1259.1 463.15v0.7M1126.3 570.25v0.7M1096.2 470.85v0.7M1177.8 329.45v0.7M1261.7 300.75v0.7M1166.8 549.95v0.7M1199.5 562.55v0.7M1129.1 362.15v0.7M1236.8 567.95v0.7M1151.9 400.75v0.7M1080.6 434.45v0.7M1257.6 515.85v0.7M1090.2 520.95v0.7M1171.0 540.15v0.7M1198.9 322.35v0.7M1165.0 396.45v0.7M1271.6 539.75v0.7M1127.3 378.55v0.7M1093.6 496.35v0.7M1229.0 508.75v0.7M1099.0 571.25v0.7M1078.1 481.25v0.7M1132.1 404.95v0.7M1127.2 371.95v0.7M1158.4 553.15v0.7M1123.8 406.85v0.7M1135.5 376.75v0.7M1094.1 499.05v0.7M1261.5 497.05v0.7M1128.1 403.45v0.7M1251.0 271.45v0.7M1293.7 273.15v0.7M1261.8 446.55v0.7M1176.5 292.85v0.7M1226.7 270.95v0.7M1163.9 559.05v0.7M1093.4 406.85v0.7M1132.5 552.25v0.7M1144.0 383.45v0.7M1222.0 343.25v0.7M1176.6 580.35v0.7M1258.2 521.75v0.7M1124.9 549.95v0.7M1202.0 329.45v0.7M1296.3 261.55v0.7M1152.4 575.95v0.7M1141.8 373.25v0.7M1173.0 532.15v0.7M1161.7 394.25v0.7M1258.7 478.45v0.7M1248.4 319.35v0.7M1241.2 261.05v0.7M1182.0 337.35v0.7M1254.3 482.15v0.7M1219.9 341.75v0.7M1233.5 311.85v0.7M1191.1 524.85v0.7M1223.5 505.85v0.7M1211.2 555.75v0.7M1118.9 430.45v0.7M1209.6 561.15v0.7M1092.6 501.05v0.7M1235.4 480.85v0.7M1077.7 515.05v0.7M1088.9 559.65v0.7M1078.8 539.85v0.7M1208.5 363.35v0.7M1216.6 323.95v0.7M1099.6 537.35v0.7M1092.7 524.25v0.7M1292.8 270.75v0.7M1100.2 549.15v0.7M1183.8 560.95v0.7M1223.1 290.05v0.7M1249.9 517.05v0.7M1194.3 275.35v0.7M1076.1 505.75v0.7M1239.4 466.25v0.7M1233.0 531.05v0.7M1074.1 485.05v0.7M1244.4 509.45v0.7M1100.7 458.05v0.7M1251.4 310.85v0.7M1147.2 411.35v0.7M1149.2 541.25v0.7M1251.0 574.15v0.7M1245.9 275.95v0.7M1251.8 294.85v0.7M1233.1 539.45v0.7M1248.9 465.85v0.7M1189.8 556.05v0.7M1166.7 555.25v0.7M1098.0 521.85v0.7M1096.4 545.15v0.7M1140.7 387.95v0.7M1293.1 294.95v0.7M1200.9 368.45v0.7M1263.8 431.45v0.7M1119.5 554.25v0.7M1169.8 400.55v0.7M1155.9 380.85v0.7M1205.7 338.65v0.7M1196.7 551.45v0.7M1218.6 289.55v0.7M1161.7 578.15v0.7M1266.8 310.15v0.7M1224.8 308.55v0.7M1168.4 393.25v0.7M1236.1 331.25v0.7M1092.9 517.45v0.7M1209.7 287.05v0.7M1138.6 570.85v0.7M1214.1 345.45v0.7M1127.1 385.75v0.7M1129.3 395.75v0.7M1232.7 507.55v0.7M1103.5 457.75v0.7M1287.6 300.95v0.7M1216.7 353.55v0.7M1211.3 329.95v0.7M1210.7 502.55v0.7M1247.3 298.95v0.7M1140.4 383.55v0.7M1104.7 540.95v0.7M1148.2 327.75v0.7M1089.4 498.65v0.7M1240.2 279.35v0.7M1075.5 436.15v0.7M1076.7 510.45v0.7M1197.5 362.75v0.7M1167.1 400.65v0.7M1165.5 377.15v0.7M1143.6 350.55v0.7M1103.3 535.25v0.7M1172.2 545.65v0.7M1147.5 570.85v0.7M1143.0 560.75v0.7M1151.8 546.05v0.7M1155.9 391.45v0.7M1179.4 370.25v0.7M1228.8 515.95v0.7M1146.2 381.45v0.7M1206.8 306.35v0.7M1176.0 339.05v0.7M1216.1 495.05v0.7M1152.5 543.75v0.7M1148.3 401.05v0.7M1082.8 540.95v0.7M1207.3 508.95v0.7M1230.7 338.35v0.7M1203.9 534.55v0.7M1114.0 403.65v0.7M1150.7 553.65v0.7M1242.0 470.05v0.7M1262.0 541.55v0.7M1206.8 356.55v0.7M1088.1 434.15v0.7M1270.8 268.55v0.7M1126.2 387.25v0.7M1265.6 435.75v0.7M1149.6 409.65v0.7M1151.0 400.25v0.7M1101.2 392.95v0.7M1150.7 404.35v0.7M1212.5 329.45v0.7M1100.3 519.95v0.7M1145.8 407.45v0.7M1105.6 565.35v0.7M1192.6 372.85v0.7M1196.3 546.95v0.7M1206.9 285.65v0.7M1151.7 577.45v0.7M1077.7 401.55v0.7M1240.0 567.25v0.7M1220.0 513.85v0.7M1148.0 402.05v0.7M1268.8 431.25v0.7M1150.0 395.45v0.7M1112.6 555.25v0.7M1155.3 367.65v0.7M1225.1 340.75v0.7M1159.3 297.75v0.7M1222.7 344.15v0.7M1247.4 450.05v0.7M1111.0 454.05v0.7M1218.2 522.25v0.7M1203.6 349.15v0.7M1090.4 495.05v0.7M1113.8 409.55v0.7M1268.8 473.25v0.7M1091.3 504.15v0.7M1132.6 550.05v0.7M1089.2 484.65v0.7M1168.7 352.85v0.7M1101.2 578.95v0.7M1104.0 565.15v0.7M1174.5 319.45v0.7M1222.7 323.45v0.7M1143.0 414.75v0.7M1245.8 521.25v0.7M1121.7 554.55v0.7M1155.7 381.25v0.7M1084.4 492.85v0.7M1175.0 547.15v0.7M1089.0 528.65v0.7M1169.0 372.05v0.7M1132.7 315.35v0.7M1173.3 537.95v0.7M1141.3 344.95v0.7M1108.4 546.15v0.7M1082.0 492.35v0.7M1222.8 506.55v0.7M1273.6 473.55v0.7M1208.3 529.45v0.7M1187.5 340.75v0.7M1259.8 475.95v0.7M1283.2 301.75v0.7M1186.7 540.55v0.7M1169.8 552.55v0.7M1200.4 371.15v0.7M1264.9 435.35v0.7M1136.5 403.45v0.7M1096.3 548.95v0.7M1196.2 345.65v0.7M1253.4 505.05v0.7M1115.5 426.35v0.7M1264.9 280.05v0.7M1184.1 534.85v0.7M1154.9 381.45v0.7M1099.8 468.15v0.7M1178.4 390.25v0.7M1124.0 388.45v0.7M1271.9 314.25v0.7M1249.4 458.85v0.7M1145.7 399.25v0.7M1238.2 281.05v0.7M1287.1 288.95v0.7M1098.4 548.65v0.7M1116.1 442.25v0.7M1178.5 328.85v0.7M1241.8 548.35v0.7M1172.9 386.85v0.7M1145.3 546.85v0.7M1175.6 357.95v0.7M1180.2 561.25v0.7M1121.1 435.35v0.7M1094.7 516.85v0.7M1263.5 477.95v0.7M1120.4 384.35v0.7M1086.4 521.65v0.7M1155.7 378.55v0.7M1075.1 400.35v0.7M1132.0 306.95v0.7M1180.0 388.05v0.7M1121.1 569.75v0.7M1163.2 550.95v0.7M1148.0 396.35v0.7M1120.8 393.45v0.7M1110.9 416.95v0.7M1143.4 390.25v0.7M1092.4 416.05v0.7M1263.3 292.55v0.7M1292.2 297.95v0.7M1207.9 522.05v0.7M1098.8 441.45v0.7M1137.8 414.15v0.7M1152.1 553.45v0.7M1269.5 527.95v0.7M1167.1 346.85v0.7M1134.0 399.85v0.7M1158.3 343.85v0.7M1188.7 385.25v0.7M1196.2 358.65v0.7M1153.5 571.35v0.7M1218.4 290.05v0.7M1200.4 512.15v0.7M1223.0 346.65v0.7M1090.6 580.35v0.7M1161.8 386.55v0.7M1143.7 378.45v0.7M1095.5 416.85v0.7M1246.4 566.35v0.7M1253.6 496.85v0.7M1284.2 300.05v0.7M1153.9 566.35v0.7M1280.2 291.55v0.7M1191.0 382.05v0.7M1085.8 502.05v0.7M1188.3 541.05v0.7M1170.1 387.05v0.7M1272.0 268.45v0.7M1233.9 539.45v0.7M1113.4 386.75v0.7M1154.5 409.15v0.7M1166.6 550.65v0.7M1219.1 345.35v0.7M1228.6 308.25v0.7M1103.0 442.15v0.7M1205.4 326.45v0.7M1254.1 265.25v0.7M1266.2 438.65v0.7M1290.3 294.55v0.7M1253.7 314.35v0.7M1117.4 403.85v0.7M1117.9 439.55v0.7M1134.5 557.15v0.7M1179.1 393.65v0.7M1243.8 262.55v0.7M1158.6 385.35v0.7M1273.6 514.25v0.7M1166.3 400.55v0.7M1140.7 410.75v0.7M1147.1 375.45v0.7M1232.4 573.65v0.7M1207.4 346.95v0.7M1107.6 553.15v0.7M1093.6 558.55v0.7M1149.0 313.25v0.7M1234.9 490.05v0.7M1195.9 534.25v0.7M1161.9 375.85v0.7M1188.1 379.05v0.7M1126.7 576.05v0.7M1207.5 501.35v0.7M1132.5 354.55v0.7M1239.9 494.05v0.7M1205.7 327.65v0.7M1124.9 366.45v0.7M1260.8 302.25v0.7M1098.3 473.95v0.7M1125.5 432.25v0.7M1167.8 567.95v0.7M1106.4 540.75v0.7M1201.2 279.65v0.7M1204.4 327.35v0.7M1237.0 304.65v0.7M1211.5 327.65v0.7M1096.0 479.95v0.7M1100.8 572.75v0.7M1293.6 293.75v0.7M1092.6 390.65v0.7M1258.3 472.85v0.7M1186.6 544.45v0.7M1082.1 415.65v0.7M1149.2 404.25v0.7M1175.3 527.55v0.7M1247.6 327.45v0.7M1088.2 415.85v0.7M1215.7 296.55v0.7M1130.8 410.65v0.7M1092.3 412.35v0.7M1252.1 484.85v0.7M1119.3 391.65v0.7M1262.9 452.25v0.7M1149.1 557.55v0.7M1114.7 439.05v0.7M1149.8 411.85v0.7M1095.0 406.35v0.7M1142.3 391.95v0.7M1127.7 412.35v0.7M1239.8 457.75v0.7M1164.4 396.75v0.7M1094.5 469.85v0.7M1184.7 351.35v0.7M1160.6 318.25v0.7M1159.5 389.55v0.7M1083.3 428.65v0.7M1227.1 547.85v0.7M1186.8 377.35v0.7M1192.7 374.75v0.7M1141.5 421.95v0.7M1166.5 565.65v0.7M1163.5 371.85v0.7M1187.6 560.55v0.7M1124.8 369.85v0.7M1145.1 395.25v0.7M1291.2 292.15v0.7M1096.2 455.05v0.7M1255.9 443.75v0.7M1243.1 324.75v0.7M1146.8 280.95v0.7M1170.9 550.85v0.7M1177.0 375.25v0.7M1263.3 264.85v0.7M1270.6 312.45v0.7M1094.3 521.05v0.7M1120.2 569.75v0.7M1095.5 545.65v0.7M1273.8 566.45v0.7M1270.8 453.05v0.7M1252.9 559.25v0.7M1237.0 491.35v0.7M1083.3 525.35v0.7M1259.4 566.85v0.7M1236.4 548.05v0.7M1089.6 472.25v0.7M1087.0 479.95v0.7M1157.0 391.15v0.7M1199.2 529.45v0.7M1109.4 393.05v0.7M1233.4 262.85v0.7M1103.0 477.45v0.7M1124.3 339.45v0.7M1218.3 295.75v0.7M1168.2 371.65v0.7M1194.6 345.45v0.7M1085.9 404.05v0.7M1119.0 550.25v0.7M1136.8 419.15v0.7M1088.2 428.05v0.7M1198.2 551.35v0.7M1118.7 437.95v0.7M1124.0 405.55v0.7M1264.1 287.75v0.7M1239.2 572.55v0.7M1212.5 283.75v0.7M1122.5 401.75v0.7M1099.8 519.35v0.7M1104.1 434.95v0.7M1106.7 466.35v0.7M1252.9 474.85v0.7M1178.0 579.95v0.7M1263.3 481.75v0.7M1202.7 511.15v0.7M1171.5 303.95v0.7M1189.4 375.15v0.7M1140.6 570.45v0.7M1091.1 493.85v0.7M1127.1 373.55v0.7M1264.8 479.15v0.7M1090.8 450.55v0.7M1107.9 397.25v0.7M1187.9 522.35v0.7M1182.1 353.75v0.7M1225.5 305.35v0.7M1297.1 265.85v0.7M1258.1 468.45v0.7M1194.6 551.55v0.7M1162.7 559.85v0.7M1204.6 516.35v0.7M1210.7 551.75v0.7M1224.5 483.35v0.7M1146.5 392.15v0.7M1176.1 553.25v0.7M1152.1 382.35v0.7M1112.7 447.25v0.7M1235.6 547.35v0.7M1256.5 440.15v0.7M1263.1 316.85v0.7M1141.6 388.95v0.7M1202.2 363.35v0.7M1166.8 565.85v0.7M1290.6 290.55v0.7M1220.5 307.55v0.7M1149.9 363.65v0.7M1176.4 302.75v0.7M1215.9 347.55v0.7M1148.8 550.45v0.7M1195.6 341.45v0.7M1080.4 547.35v0.7M1122.0 427.05v0.7M1128.5 314.35v0.7M1267.3 314.65v0.7M1165.5 343.55v0.7M1109.1 573.95v0.7M1239.4 491.35v0.7M1214.3 543.25v0.7M1181.1 341.35v0.7M1131.5 285.45v0.7M1264.0 311.65v0.7M1179.4 548.25v0.7M1151.8 545.15v0.7M1268.7 293.15v0.7M1162.5 539.95v0.7M1168.4 542.45v0.7M1216.3 334.15v0.7M1149.3 354.05v0.7M1179.7 387.05v0.7M1287.5 302.05v0.7M1126.6 435.05v0.7M1140.8 581.05v0.7M1229.8 274.15v0.7M1219.7 510.05v0.7M1144.3 362.15v0.7M1145.4 544.35v0.7M1212.7 319.95v0.7M1196.3 347.25v0.7M1261.6 544.25v0.7M1229.1 309.55v0.7M1234.8 266.95v0.7M1142.2 414.65v0.7M1180.4 577.75v0.7M1099.9 476.65v0.7M1210.8 313.15v0.7M1285.0 301.25v0.7M1136.4 424.65v0.7M1149.3 384.75v0.7M1119.6 433.85v0.7M1081.8 469.15v0.7M1183.5 359.75v0.7M1185.2 539.55v0.7M1224.5 327.95v0.7M1192.9 353.55v0.7M1103.7 462.45v0.7M1145.5 394.55v0.7M1260.5 300.05v0.7M1082.3 512.95v0.7M1216.8 322.55v0.7M1100.0 463.85v0.7M1183.6 544.35v0.7M1227.7 326.05v0.7M1210.3 494.85v0.7M1233.6 322.55v0.7M1173.5 578.45v0.7M1105.5 582.55v0.7M1122.0 400.75v0.7M1247.7 324.05v0.7M1083.0 453.65v0.7M1101.1 446.55v0.7M1183.6 370.15v0.7M1154.8 548.25v0.7M1074.4 455.15v0.7M1238.7 282.65v0.7M1295.3 280.95v0.7M1225.9 334.35v0.7M1091.7 499.15v0.7M1089.0 468.45v0.7M1130.9 418.65v0.7M1088.1 454.85v0.7M1129.6 293.15v0.7M1099.9 468.95v0.7M1164.0 351.25v0.7M1077.2 474.65v0.7M1089.4 534.55v0.7M1118.2 575.35v0.7M1227.9 546.35v0.7M1163.6 339.85v0.7M1079.2 526.65v0.7M1162.9 398.95v0.7M1189.9 345.25v0.7M1267.1 270.45v0.7M1150.8 380.15v0.7M1246.6 498.05v0.7M1252.7 319.25v0.7M1077.3 567.25v0.7M1273.4 310.65v0.7M1118.0 427.15v0.7M1221.8 526.35v0.7M1122.5 397.75v0.7M1085.6 455.85v0.7M1196.8 378.35v0.7M1085.4 574.55v0.7M1146.1 546.85v0.7M1134.8 552.75v0.7M1145.3 412.15v0.7M1267.4 316.25v0.7M1088.2 566.45v0.7M1203.7 281.35v0.7M1189.6 552.55v0.7M1104.8 537.35v0.7M1139.8 356.55v0.7M1239.9 277.15v0.7M1255.8 298.05v0.7M1118.8 427.55v0.7M1205.4 561.15v0.7M1158.5 340.15v0.7M1221.4 314.85v0.7M1271.6 275.05v0.7M1105.7 433.35v0.7M1189.1 378.65v0.7M1121.2 415.25v0.7M1210.8 271.35v0.7M1208.9 283.25v0.7M1199.3 533.95v0.7M1140.9 407.15v0.7M1080.4 563.95v0.7M1109.1 430.65v0.7M1120.3 434.15v0.7M1132.9 422.25v0.7M1163.8 536.75v0.7M1166.2 331.45v0.7M1217.5 347.35v0.7M1211.8 494.75v0.7M1262.8 438.55v0.7M1222.1 323.15v0.7M1157.0 394.95v0.7M1206.1 279.85v0.7M1122.5 424.75v0.7M1255.9 524.15v0.7M1230.0 542.45v0.7M1138.6 404.05v0.7M1164.9 397.95v0.7M1194.9 339.85v0.7M1143.2 388.45v0.7M1143.6 359.25v0.7M1238.5 266.95v0.7M1133.7 422.65v0.7M1093.1 508.75v0.7M1254.7 456.75v0.7M1110.2 441.15v0.7M1088.2 433.75v0.7M1174.1 368.95v0.7M1117.7 429.95v0.7M1125.3 571.35v0.7M1207.9 274.75v0.7M1236.4 464.15v0.7M1123.8 283.55v0.7M1090.0 413.25v0.7M1152.5 307.05v0.7M1081.0 437.95v0.7M1114.3 354.55v0.7M1108.9 447.85v0.7M1289.8 296.75v0.7M1103.8 436.25v0.7M1224.7 308.45v0.7M1081.6 554.45v0.7M1140.8 420.45v0.7M1098.6 505.95v0.7M1172.7 535.05v0.7M1298.6 282.05v0.7M1221.7 339.15v0.7M1153.9 392.65v0.7M1246.6 570.85v0.7M1252.8 305.65v0.7M1235.6 479.25v0.7M1097.1 448.35v0.7M1207.2 321.85v0.7M1294.6 273.35v0.7M1090.3 481.35v0.7M1171.0 297.15v0.7M1184.5 374.55v0.7M1104.2 400.55v0.7M1094.4 538.25v0.7M1129.7 420.55v0.7M1241.7 578.45v0.7M1169.2 327.25v0.7M1079.5 573.65v0.7M1131.9 286.45v0.7M1124.7 373.55v0.7M1159.8 399.05v0.7M1076.3 474.75v0.7M1222.9 316.25v0.7M1160.7 406.75v0.7M1148.2 413.35v0.7M1094.3 475.05v0.7M1088.3 492.55v0.7M1263.8 308.55v0.7M1205.2 363.25v0.7M1274.5 281.25v0.7M1262.4 314.15v0.7M1083.2 499.55v0.7M1244.9 456.95v0.7M1247.0 298.55v0.7M1275.8 309.65v0.7M1245.4 462.05v0.7M1162.9 540.25v0.7M1143.6 413.95v0.7M1163.4 393.75v0.7M1201.0 370.55v0.7M1200.2 319.45v0.7M1077.2 400.25v0.7M1184.1 533.05v0.7M1169.0 548.05v0.7M1194.1 558.25v0.7M1201.4 332.85v0.7M1178.4 562.75v0.7M1119.0 347.15v0.7M1152.8 399.05v0.7M1226.2 498.35v0.7M1192.2 516.85v0.7M1089.6 507.95v0.7M1084.5 499.35v0.7M1133.1 560.75v0.7M1092.1 551.25v0.7M1155.7 393.45v0.7M1093.2 562.75v0.7M1095.7 531.65v0.7M1272.6 520.85v0.7M1171.7 366.15v0.7M1192.3 515.55v0.7M1258.0 310.45v0.7M1088.7 505.35v0.7M1194.1 378.95v0.7M1189.8 559.45v0.7M1203.5 267.25v0.7M1198.5 366.75v0.7M1106.6 461.05v0.7M1243.4 491.05v0.7M1180.0 365.15v0.7M1261.7 307.05v0.7M1128.9 342.25v0.7M1124.1 421.35v0.7M1108.5 438.55v0.7M1248.6 546.55v0.7M1123.4 436.15v0.7M1224.6 326.15v0.7M1269.5 301.95v0.7M1127.7 378.55v0.7M1118.8 395.75v0.7M1185.0 523.95v0.7M1126.5 421.45v0.7M1229.4 548.25v0.7M1105.1 581.35v0.7M1189.0 523.25v0.7M1188.1 323.25v0.7M1178.7 393.85v0.7M1175.8 378.35v0.7M1185.6 386.55v0.7M1241.1 516.05v0.7M1208.1 314.85v0.7M1130.1 431.95v0.7M1262.4 539.25v0.7M1188.0 379.65v0.7M1195.0 366.15v0.7M1165.3 381.85v0.7M1077.6 438.75v0.7M1082.0 580.75v0.7M1107.2 547.95v0.7M1173.0 366.25v0.7M1269.0 453.75v0.7M1147.1 405.05v0.7M1165.4 371.55v0.7M1273.6 288.55v0.7M1220.9 497.65v0.7M1148.1 404.75v0.7M1140.6 577.65v0.7M1102.4 466.25v0.7M1214.8 568.15v0.7M1137.8 327.65v0.7M1202.4 366.95v0.7M1115.8 428.35v0.7M1129.0 397.25v0.7M1229.0 558.85v0.7M1084.5 442.85v0.7M1278.5 309.75v0.7M1231.7 338.15v0.7M1115.8 341.25v0.7M1112.1 386.05v0.7M1270.5 304.85v0.7M1152.8 395.75v0.7M1172.3 540.65v0.7M1210.1 529.15v0.7M1299.4 284.75v0.7M1212.6 567.05v0.7M1267.2 285.25v0.7M1106.6 400.85v0.7M1085.4 513.75v0.7M1264.6 270.35v0.7M1288.1 282.45v0.7M1249.9 499.95v0.7M1244.2 283.45v0.7M1274.5 286.25v0.7M1193.2 573.15v0.7M1128.9 411.95v0.7M1086.5 541.35v0.7M1130.4 575.35v0.7M1257.2 463.35v0.7M1134.0 340.55v0.7M1269.0 425.65v0.7M1175.2 559.95v0.7M1245.2 301.65v0.7M1140.9 562.95v0.7M1207.9 289.95v0.7M1151.4 399.15v0.7M1082.0 491.75v0.7M1105.6 536.95v0.7M1102.2 533.55v0.7M1106.4 542.75v0.7M1094.8 521.45v0.7M1101.5 524.85v0.7M1097.6 515.75v0.7M1096.3 515.75v0.7M1098.3 526.95v0.7M1099.2 523.25v0.7M1098.1 510.85v0.7M1095.2 496.65v0.7M1097.7 500.35v0.7M1100.1 496.95v0.7M1098.3 504.85v0.7M1099.5 499.85v0.7M1095.4 503.25v0.7M1100.2 495.85v0.7M1092.5 507.25v0.7M1099.8 475.95v0.7M1096.8 490.75v0.7M1099.4 479.65v0.7M1098.4 485.15v0.7M1093.0 479.95v0.7M1097.9 493.05v0.7M1101.4 491.65v0.7M1102.0 484.95v0.7M1101.9 490.35v0.7M1104.0 461.05v0.7M1104.9 472.85v0.7M1103.4 472.95v0.7M1103.8 459.45v0.7M1101.9 467.85v0.7M1110.4 461.55v0.7M1106.7 465.85v0.7M1109.5 459.55v0.7M1111.6 458.85v0.7M1105.7 460.75v0.7M1104.8 464.75v0.7M1111.6 458.85v0.7M1104.7 451.55v0.7M1109.1 438.05v0.7M1116.4 440.05v0.7M1113.0 453.45v0.7M1114.2 446.65v0.7M1109.0 455.15v0.7M1110.6 452.65v0.7M1109.2 449.65v0.7M1115.0 450.55v0.7M1130.8 430.85v0.7M1126.4 433.85v0.7M1119.5 432.15v0.7M1128.7 425.65v0.7M1131.2 430.95v0.7M1128.5 434.05v0.7M1122.6 431.95v0.7M1124.2 432.95v0.7M1135.9 425.65v0.7M1140.1 417.85v0.7M1137.8 428.85v0.7M1144.8 417.85v0.7M1137.3 427.05v0.7M1137.8 422.75v0.7M1138.8 424.55v0.7M1137.7 424.55v0.7M1147.9 411.65v0.7M1143.8 411.75v0.7M1150.3 414.05v0.7M1156.5 407.25v0.7M1160.7 406.45v0.7M1158.1 405.35v0.7M1156.4 404.55v0.7M1157.1 407.05v0.7M1151.1 403.35v0.7M1175.0 396.25v0.7M1175.1 388.85v0.7M1175.3 397.85v0.7M1168.5 400.25v0.7M1164.6 405.25v0.7M1172.8 394.75v0.7M1169.3 402.35v0.7M1163.2 404.15v0.7M1174.5 398.15v0.7M1163.8 392.65v0.7M1167.9 403.05v0.7M1171.8 394.45v0.7M1173.8 398.15v0.7M1181.2 393.65v0.7M1184.2 388.85v0.7M1186.9 388.25v0.7M1192.3 384.35v0.7M1181.4 387.25v0.7M1181.0 393.35v0.7M1180.2 391.85v0.7M1191.5 378.05v0.7M1192.5 377.35v0.7M1200.7 372.75v0.7M1202.8 370.35v0.7M1203.0 369.75v0.7M1204.5 369.45v0.7M1196.5 379.35v0.7M1198.3 373.75v0.7M1196.4 374.15v0.7M1197.4 371.45v0.7M1199.0 361.75v0.7M1202.2 368.75v0.7M1199.8 376.75v0.7M1204.0 368.75v0.7M1207.0 362.05v0.7M1212.6 360.85v0.7M1214.0 357.25v0.7M1213.2 351.65v0.7M1206.8 350.55v0.7M1215.3 355.85v0.7M1225.0 329.85v0.7M1232.5 336.25v0.7M1219.7 342.05v0.7M1235.8 335.15v0.7M1232.7 335.75v0.7M1235.5 334.85v0.7M1226.5 333.55v0.7M1222.5 347.65v0.7M1220.3 341.75v0.7M1233.9 326.55v0.7M1230.1 342.05v0.7M1241.7 330.75v0.7M1252.6 323.55v0.7M1241.9 330.05v0.7M1242.5 328.45v0.7M1241.2 328.65v0.7M1252.1 324.45v0.7M1240.3 333.05v0.7M1265.3 312.25v0.7M1257.7 306.95v0.7M1269.5 314.15v0.7M1260.7 314.35v0.7M1269.6 312.85v0.7M1275.9 311.75v0.7M1262.1 315.25v0.7M1267.3 310.35v0.7M1262.6 317.75v0.7M1269.0 311.85v0.7M1275.8 307.85v0.7M1280.7 302.65v0.7M1287.5 303.95v0.7M1275.2 303.95v0.7M1288.0 301.35v0.7M1281.2 306.15v0.7M1279.0 300.85v0.7M1279.1 310.85v0.7M1300.4 293.45v0.7M1295.0 290.45v0.7M1301.6 289.95v0.7M1301.4 284.65v0.7M1308.4 287.15v0.7M1306.8 283.85v0.7M1311.6 285.05v0.7M1309.1 287.45v0.7M1303.7 289.35v0.7M1312.6 276.95v0.7M1301.5 286.75v0.7M1308.1 280.65v0.7M1304.9 287.15v0.7M1318.3 280.75v0.7M1317.4 278.95v0.7M1319.2 275.75v0.7M1322.2 269.15v0.7M1317.5 271.45v0.7M1319.4 276.45v0.7M1317.3 279.95v0.7M1327.6 267.15v0.7M1324.8 268.65v0.7M1327.5 270.05v0.7M1328.4 273.15v0.7M1332.9 268.75v0.7M1331.9 270.05v0.7M1325.9 270.35v0.7M1336.5 264.45v0.7M1335.7 265.65v0.7M1334.3 263.15v0.7M1339.3 261.05v0.7M1336.1 251.65v0.7M1346.1 250.95v0.7M1346.3 255.85v0.7M1351.0 255.25v0.7M1348.0 243.95v0.7M1349.0 254.75v0.7M1357.0 253.05v0.7M1365.2 248.05v0.7M1356.7 248.45v0.7M1358.2 251.55v0.7M1365.9 246.25v0.7M1366.1 247.25v0.7M1361.1 244.85v0.7M1360.9 250.05v0.7M1366.7 240.65v0.7M1372.4 241.75v0.7M1368.5 245.55v0.7M1373.2 232.35v0.7M1380.4 231.55v0.7M1392.6 224.25v0.7M1390.6 226.45v0.7M1384.3 229.05v0.7M1392.5 224.35v0.7M1394.5 224.85v0.7M1392.5 221.85v0.7M1385.2 229.65v0.7M1388.1 230.05v0.7M1380.3 220.95v0.7M1398.1 220.05v0.7M1397.7 213.55v0.7M1400.0 210.45v0.7M1406.1 211.55v0.7M1404.8 213.65v0.7M1404.5 210.15v0.7M1399.6 220.55v0.7M1405.4 205.05v0.7M1407.2 205.25v0.7M1410.0 207.65v0.7M1424.2 198.65v0.7M1421.8 197.15v0.7M1421.8 197.05v0.7M1428.7 192.35v0.7M1432.3 192.55v0.7M1424.7 193.55v0.7M1426.0 196.05v0.7M1428.6 195.25v0.7M1434.5 190.55v0.7M1436.1 190.95v0.7M1436.5 190.65v0.7M1437.0 192.95v0.7M1437.0 188.05v0.7M1444.5 188.65v0.7M1444.5 184.45v0.7M1460.1 199.45v0.7M1457.6 203.35v0.7M1449.4 201.05v0.7M1446.5 201.95v0.7M1445.1 213.45v0.7M1445.8 208.25v0.7M1445.4 207.95v0.7M1439.9 217.25v0.7M1440.7 215.75v0.7M1445.5 217.75v0.7M1426.7 230.55v0.7M1433.9 227.85v0.7M1428.0 230.35v0.7M1434.5 229.15v0.7M1422.3 235.15v0.7M1419.1 239.65v0.7M1422.1 245.45v0.7M1421.0 243.85v0.7M1413.7 244.25v0.7M1414.6 246.45v0.7M1410.2 264.95v0.7M1410.5 251.75v0.7M1408.1 265.05v0.7M1414.0 261.75v0.7M1395.8 267.65v0.7M1404.5 264.75v0.7M1393.3 274.45v0.7M1392.4 273.95v0.7M1395.5 267.85v0.7M1400.5 269.05v0.7M1383.7 285.15v0.7M1380.1 282.75v0.7M1380.3 286.25v0.7M1383.6 279.35v0.7M1385.8 281.95v0.7M1387.2 274.45v0.7M1366.9 301.95v0.7M1374.3 300.25v0.7M1370.0 291.65v0.7M1375.9 287.05v0.7M1374.7 298.05v0.7M1381.7 297.65v0.7M1365.6 301.35v0.7M1364.1 313.05v0.7M1364.3 304.65v0.7M1365.7 310.25v0.7M1364.6 306.55v0.7M1365.7 303.65v0.7M1350.3 318.25v0.7M1345.7 323.55v0.7M1340.7 334.95v0.7M1340.8 330.55v0.7M1342.6 328.25v0.7M1333.6 340.25v0.7M1334.9 334.35v0.7M1331.2 340.95v0.7M1327.6 352.55v0.7M1323.9 353.95v0.7M1324.8 354.05v0.7M1325.8 354.35v0.7M1333.9 356.45v0.7M1331.3 346.25v0.7M1321.3 360.65v0.7M1320.7 358.05v0.7M1327.9 361.25v0.7M1321.7 357.05v0.7M1314.3 364.95v0.7M1311.1 369.55v0.7M1306.7 380.05v0.7M1308.1 377.25v0.7M1308.6 373.75v0.7M1301.0 381.65v0.7M1314.6 379.65v0.7M1309.2 374.75v0.7M1289.5 392.15v0.7M1287.6 395.45v0.7M1280.5 406.95v0.7M1283.5 406.65v0.7M1283.3 408.45v0.7M1287.4 403.05v0.7M1278.1 415.35v0.7M1275.2 418.15v0.7M1280.8 413.45v0.7M1256.7 443.45v0.7M1265.3 428.25v0.7M1258.4 441.65v0.7M1254.0 442.35v0.7M1269.6 439.45v0.7M1255.1 458.25v0.7M1255.7 446.85v0.7M1245.7 450.15v0.7M1246.9 454.65v0.7M1246.6 455.05v0.7M1242.4 453.95v0.7M1239.0 461.55v0.7M1237.5 465.15v0.7M1236.7 462.15v0.7M1235.6 465.95v0.7M1224.0 490.15v0.7M1224.5 486.95v0.7M1223.2 478.05v0.7M1220.5 482.25v0.7M1218.7 484.65v0.7M1202.0 507.85v0.7M1204.3 500.35v0.7M1202.0 523.45v0.7M1201.9 506.55v0.7M1201.9 505.25v0.7M1194.2 518.25v0.7M1199.6 508.75v0.7M1198.6 512.25v0.7M1192.7 514.05v0.7M1192.9 516.95v0.7M1206.9 506.15v0.7M1197.8 509.75v0.7M1205.8 499.55v0.7M1200.9 506.75v0.7M1205.7 501.05v0.7M1175.5 531.45v0.7M1177.6 527.35v0.7M1172.1 530.95v0.7M1162.8 538.15v0.7M1173.9 530.05v0.7M1153.2 538.15v0.7M1157.7 543.05v0.7M1134.5 546.75v0.7M1121.1 550.05v0.7M1125.7 552.45v0.7M1127.0 549.35v0.7M1122.7 554.95v0.7M1118.1 550.95v0.7M1112.9 553.95v0.7M1108.1 548.55v0.7" stroke="#000" stroke-width="5.6" stroke-linecap="round" fill="none"/>
</g>
</svg></body></html>
